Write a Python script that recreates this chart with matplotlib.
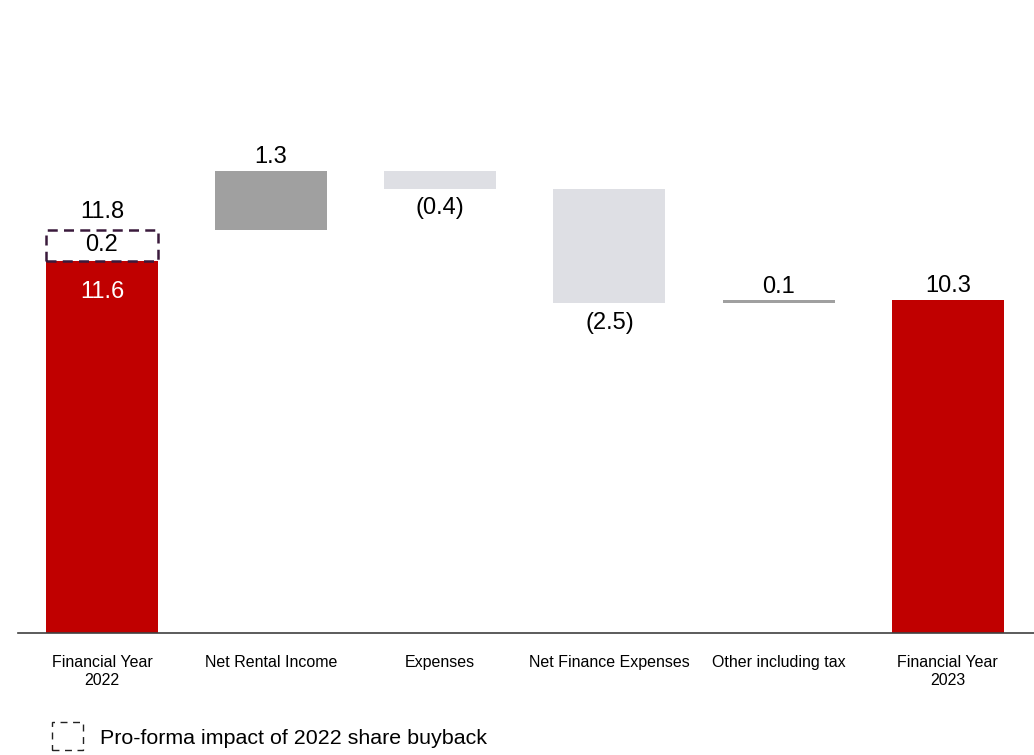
import matplotlib
matplotlib.use("Agg")
import matplotlib.pyplot as plt
from matplotlib.patches import Rectangle

plt.rcParams["font.family"] = ["Liberation Sans", "DejaVu Sans"]

categories = ["Financial Year\n2022", "Net Rental Income", "Expenses",
              "Net Finance Expenses", "Other including tax", "Financial Year\n2023"]
# levels as drawn in the picture (bottom / top of each floating bar)
bar_bottoms = [0, 12.57, 13.86, 10.28, 10.28, 0]
bar_tops = [11.6, 14.41, 14.41, 13.86, 10.37, 10.4]
value_labels = ["11.6", "1.3", "(0.4)", "(2.5)", "0.1", "10.3"]
bar_colors = ["#C00000", "#A0A0A0", "#DEDFE4", "#DEDFE4", "#A0A0A0", "#C00000"]

buyback_bottom, buyback_top = 11.6, 12.57
buyback_label = "0.2"
pro_forma_label = "11.8"
legend_text = "Pro-forma impact of 2022 share buyback"

fig = plt.figure(figsize=(10.34, 7.55), dpi=100)
ax = fig.add_axes([18 / 1034, 122 / 755, 1 - 18 / 1034, 633 / 755])

x = list(range(len(categories)))
w = 0.662
heights = [t - b for t, b in zip(bar_tops, bar_bottoms)]
ax.bar(x, heights, bottom=bar_bottoms, width=w, color=bar_colors, zorder=2)

# buyback dashed box on first bar
ax.add_patch(Rectangle((x[0] - w / 2, buyback_bottom), w, buyback_top - buyback_bottom,
                       fill=False, edgecolor="#3A1A3C", linewidth=1.8,
                       linestyle=(0, (4, 2.5)), zorder=3))

fs = 17
# value labels
offsets = [-22, 10, -14, -14, 10, 9.5]
for i in range(len(x)):
    if i == 0:
        y = bar_tops[i]
        col = "white"
    elif offsets[i] > 0:
        y = bar_tops[i]
        col = "black"
    else:
        y = bar_bottoms[i]
        col = "black"
    ax.annotate(value_labels[i], (x[i], y), xytext=(0, offsets[i]),
                textcoords="offset points", ha="center", va="center",
                fontsize=fs, color=col, zorder=4)

ax.annotate(buyback_label, (x[0], (buyback_bottom + buyback_top) / 2),
            ha="center", va="center", fontsize=fs, color="black", zorder=4)
ax.annotate(pro_forma_label, (x[0], buyback_top), xytext=(0, 13),
            textcoords="offset points", ha="center", va="center", fontsize=fs)

ax.set_xlim(-0.496, 5.51)
ax.set_ylim(0, 19.74)
for s in ["top", "right", "left"]:
    ax.spines[s].set_visible(False)
ax.spines["bottom"].set_color("#404040")
ax.spines["bottom"].set_linewidth(1.2)
ax.set_yticks([])
ax.set_xticks(x)
ax.set_xticklabels(categories, fontsize=11.5, linespacing=1.2)
ax.tick_params(axis="x", length=0, pad=16)

# legend
fig.patches.append(Rectangle((52 / 1034, 1 - 750 / 755), 31 / 1034, 28 / 755,
                             transform=fig.transFigure, fill=False,
                             edgecolor="#222222", linewidth=1.0,
                             linestyle=(0, (5, 4))))
fig.text(100 / 1034, 1 - 738 / 755, legend_text, fontsize=15.4, va="center", ha="left")

fig.savefig("out.png", dpi=100)
